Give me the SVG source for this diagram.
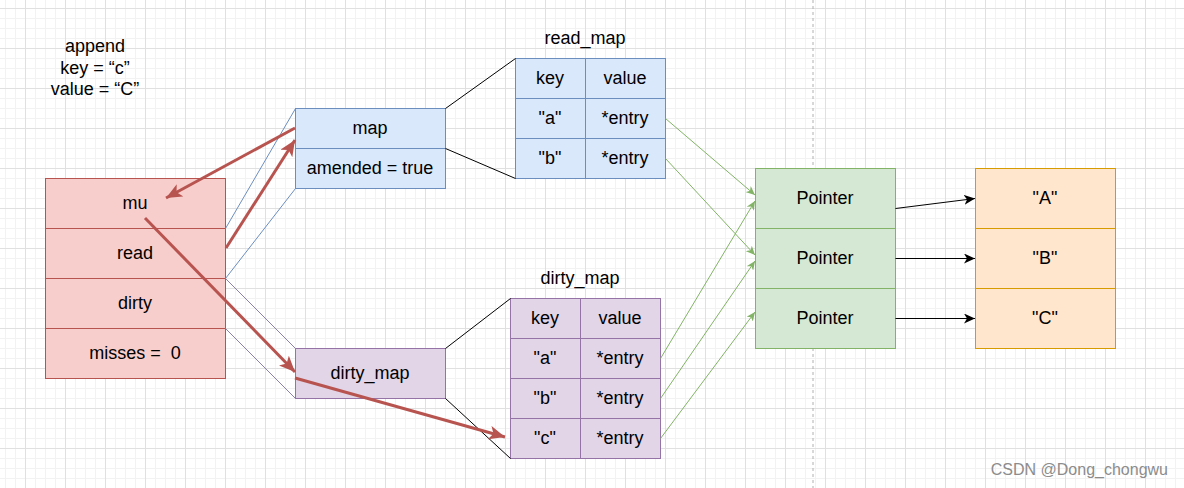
<svg xmlns="http://www.w3.org/2000/svg" width="1184" height="488" viewBox="0 0 1184 488">
<defs>
<pattern id="grid" patternUnits="userSpaceOnUse" x="25" y="8" width="40" height="40">
<path d="M10.5,0V40M20.5,0V40M30.5,0V40M0,10.5H40M0,20.5H40M0,30.5H40" stroke="#f2f2f2" stroke-width="1" fill="none"/>
<path d="M0.5,0V40M0,0.5H40" stroke="#e0e0e0" stroke-width="1" fill="none"/>
</pattern>
<marker id="red" markerUnits="userSpaceOnUse" markerWidth="18" markerHeight="14" refX="16" refY="7" orient="auto" viewBox="0 0 18 14">
<path d="M0,0 L16,7 L0,14 L4,7 Z" fill="#b85450"/>
</marker>
<marker id="green" markerUnits="userSpaceOnUse" markerWidth="10" markerHeight="8" refX="9" refY="4" orient="auto" viewBox="0 0 10 8">
<path d="M0,0 L9,4 L0,8 L2.5,4 Z" fill="#82b366"/>
</marker>
<marker id="black" markerUnits="userSpaceOnUse" markerWidth="12" markerHeight="10" refX="11" refY="5" orient="auto" viewBox="0 0 12 10">
<path d="M0,0 L11,5 L0,10 L3,5 Z" fill="#000"/>
</marker>
</defs>
<style>
text{font-family:"Liberation Sans",Arial,sans-serif;font-size:18px;fill:#000;text-anchor:middle;white-space:pre}
.red{fill:#f8cecc;stroke:#b85450;stroke-width:1}
.blue{fill:#dae8fc;stroke:#6c8ebf;stroke-width:1}
.purple{fill:#e1d5e7;stroke:#9673a6;stroke-width:1}
.green{fill:#d5e8d4;stroke:#82b366;stroke-width:1}
.orange{fill:#ffe6cc;stroke:#d79b00;stroke-width:1}
.rarrow{stroke:#b85450;stroke-width:3;fill:none;marker-end:url(#red)}
.garrow{stroke:#82b366;stroke-width:1;fill:none;marker-end:url(#green)}
.barrow{stroke:#000;stroke-width:1;fill:none;marker-end:url(#black)}
</style>
<rect width="1184" height="488" fill="#ffffff"/>
<rect width="1184" height="488" fill="url(#grid)"/>
<line x1="813" y1="0" x2="813" y2="488" stroke="#b0b0b0" stroke-width="1" stroke-dasharray="3,3"/>

<g id="append-label">
<text x="95" y="52">append</text>
<text x="95" y="74">key = “c”</text>
<text x="95" y="95">value = “C”</text>
</g>

<g id="sync-map">
<rect class="red" x="45.5" y="178.5" width="180" height="50"/>
<rect class="red" x="45.5" y="228.5" width="180" height="50"/>
<rect class="red" x="45.5" y="278.5" width="180" height="50"/>
<rect class="red" x="45.5" y="328.5" width="180" height="50"/>
<text x="135" y="209">mu</text>
<text x="135" y="259">read</text>
<text x="135" y="309">dirty</text>
<text x="135" y="359" xml:space="preserve">misses =  0</text>
</g>

<g id="read-struct">
<rect class="blue" x="295.5" y="108.5" width="150" height="40"/>
<rect class="blue" x="295.5" y="148.5" width="150" height="40"/>
<text x="370" y="134">map</text>
<text x="370" y="174">amended = true</text>
</g>

<g id="dirty-struct">
<rect class="purple" x="295.5" y="348.5" width="150" height="50"/>
<text x="370" y="379">dirty_map</text>
</g>

<g id="read-map">
<text x="585" y="44">read_map</text>
<rect class="blue" x="515.5" y="58.5" width="70" height="40"/>
<rect class="blue" x="585.5" y="58.5" width="80" height="40"/>
<rect class="blue" x="515.5" y="98.5" width="70" height="40"/>
<rect class="blue" x="585.5" y="98.5" width="80" height="40"/>
<rect class="blue" x="515.5" y="138.5" width="70" height="40"/>
<rect class="blue" x="585.5" y="138.5" width="80" height="40"/>
<text x="550" y="84">key</text>
<text x="625" y="84">value</text>
<text x="550" y="124">"a"</text>
<text x="625" y="124">*entry</text>
<text x="550" y="164">"b"</text>
<text x="625" y="164">*entry</text>
</g>

<g id="dirty-map">
<text x="580" y="284">dirty_map</text>
<rect class="purple" x="510.5" y="298.5" width="70" height="40"/>
<rect class="purple" x="580.5" y="298.5" width="80" height="40"/>
<rect class="purple" x="510.5" y="338.5" width="70" height="40"/>
<rect class="purple" x="580.5" y="338.5" width="80" height="40"/>
<rect class="purple" x="510.5" y="378.5" width="70" height="40"/>
<rect class="purple" x="580.5" y="378.5" width="80" height="40"/>
<rect class="purple" x="510.5" y="418.5" width="70" height="40"/>
<rect class="purple" x="580.5" y="418.5" width="80" height="40"/>
<text x="545" y="324">key</text>
<text x="620" y="324">value</text>
<text x="545" y="364">"a"</text>
<text x="620" y="364">*entry</text>
<text x="545" y="404">"b"</text>
<text x="620" y="404">*entry</text>
<text x="545" y="444">"c"</text>
<text x="620" y="444">*entry</text>
</g>

<g id="pointers">
<rect class="green" x="755.5" y="168.5" width="140" height="60"/>
<rect class="green" x="755.5" y="228.5" width="140" height="60"/>
<rect class="green" x="755.5" y="288.5" width="140" height="60"/>
<text x="825" y="204">Pointer</text>
<text x="825" y="264">Pointer</text>
<text x="825" y="324">Pointer</text>
</g>

<g id="values">
<rect class="orange" x="975.5" y="168.5" width="140" height="60"/>
<rect class="orange" x="975.5" y="228.5" width="140" height="60"/>
<rect class="orange" x="975.5" y="288.5" width="140" height="60"/>
<text x="1045" y="204">"A"</text>
<text x="1045" y="264">"B"</text>
<text x="1045" y="324">"C"</text>
</g>

<g id="connectors">
<line x1="225.5" y1="228.5" x2="295.5" y2="108.5" stroke="#6c8ebf" stroke-width="1"/>
<line x1="225.5" y1="278.5" x2="295.5" y2="188.5" stroke="#6c8ebf" stroke-width="1"/>
<line x1="225.5" y1="278.5" x2="295.5" y2="348.5" stroke="#8a80a8" stroke-width="1"/>
<line x1="225.5" y1="328.5" x2="295.5" y2="398.5" stroke="#8a80a8" stroke-width="1"/>
<line x1="445.5" y1="108.5" x2="515.5" y2="58.5" stroke="#000" stroke-width="1"/>
<line x1="445.5" y1="148.5" x2="515.5" y2="178.5" stroke="#000" stroke-width="1"/>
<line x1="445.5" y1="348.5" x2="510.5" y2="298.5" stroke="#000" stroke-width="1"/>
<line x1="445.5" y1="398.5" x2="510.5" y2="458.5" stroke="#000" stroke-width="1"/>

<path class="garrow" d="M665.5,118.5 L755,195"/>
<path class="garrow" d="M665.5,158.5 L755,255"/>
<path class="garrow" d="M660.5,358.5 L755,201"/>
<path class="garrow" d="M660.5,398.5 L755,261"/>
<path class="garrow" d="M660.5,438.5 L755,312"/>

<path class="barrow" d="M895.5,208.5 L975,198.5"/>
<path class="barrow" d="M895.5,258.5 L975,258.5"/>
<path class="barrow" d="M895.5,318.5 L975,318.5" stroke="#444" stroke-width="1.5"/>

<path class="rarrow" d="M295,128 L166,198"/>
<path class="rarrow" d="M226,248 L295,140"/>
<path class="rarrow" d="M145,218 L295,372"/>
<path class="rarrow" d="M295,378 L505,437"/>
</g>

<text x="1168" y="475" style="font-size:16px;fill:#8c8c8c;text-anchor:end">CSDN @Dong_chongwu</text>
</svg>
